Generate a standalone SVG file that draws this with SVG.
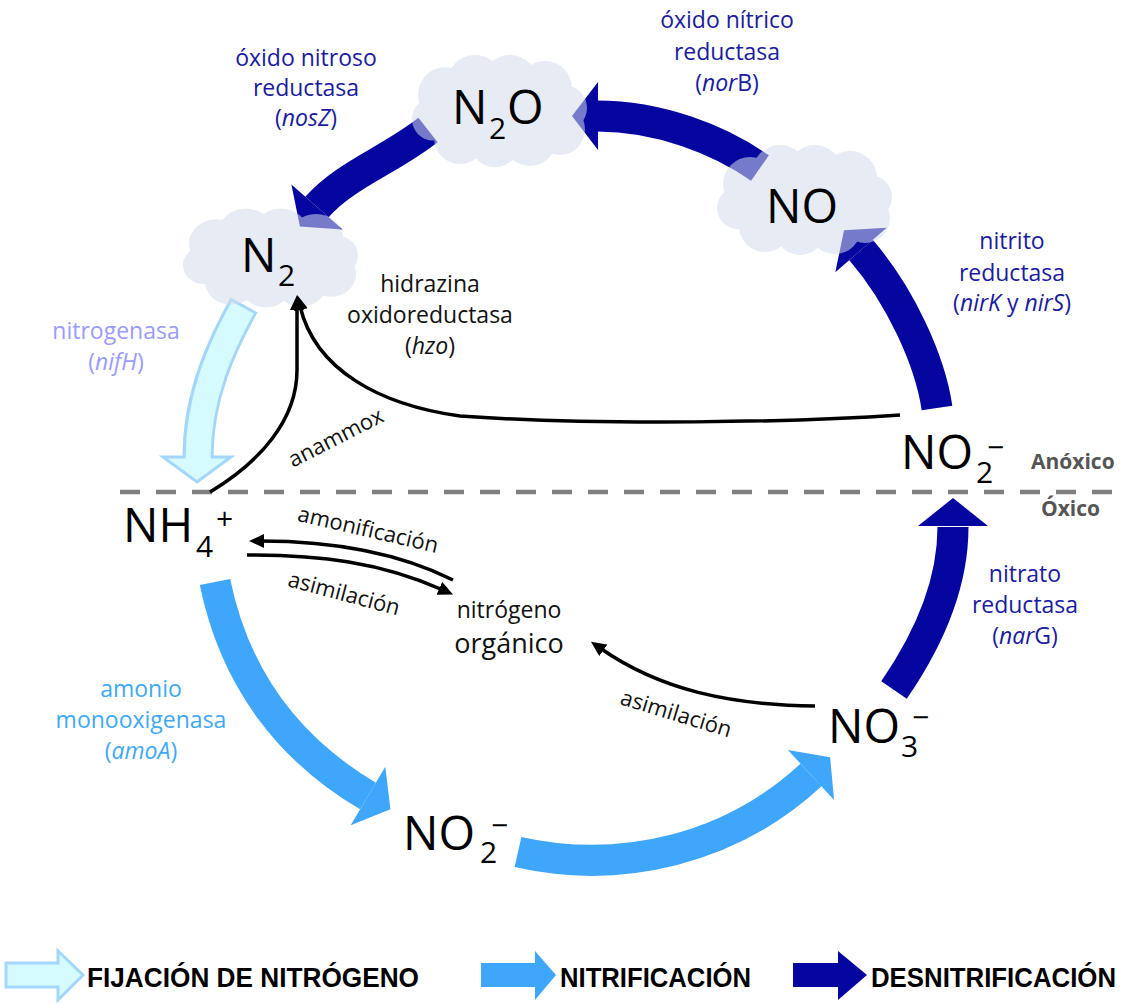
<svg xmlns="http://www.w3.org/2000/svg" xmlns:xlink="http://www.w3.org/1999/xlink" width="1127" height="1004" viewBox="0 0 1127 1004">
<style>
.sp{font-family:"Open Sans","Noto Sans",sans-serif;font-size:47px;fill:#000}
.sub{font-size:30px}
.lbl{font-family:"Open Sans","Noto Sans",sans-serif;font-size:23px;text-anchor:middle}
.den{fill:#1b1b9e}
.nit{fill:#3fa9f5}
.fix{fill:#9b9bff}
.blk{fill:#111}
.it{font-style:italic}
.rx{font-family:"Open Sans","Noto Sans",sans-serif;font-size:22px;fill:#111;text-anchor:middle}
.zone{font-family:"Open Sans","Noto Sans",sans-serif;font-size:21px;font-weight:bold;fill:#555}
.leg{font-family:"Liberation Sans Narrow","Liberation Sans",sans-serif;font-size:27px;font-weight:bold;fill:#000}
.bodyD{fill:none;stroke:#0505a0;stroke-width:31}
.bodyN{fill:none;stroke:#3ea6fb;stroke-width:31}
.headD{fill:#0505a0}
.headN{fill:#3ea6fb}
.thin{fill:none;stroke:#000;stroke-width:3.5}
.cloud{fill:#d3dcec}
</style>
<defs>
<g id="cloudShape">
<ellipse cx="0" cy="2" rx="70" ry="38"/>
<circle cx="-55" cy="-16" r="27"/>
<circle cx="-25" cy="-27" r="28"/>
<circle cx="10" cy="-28" r="27"/>
<circle cx="45" cy="-22" r="27"/>
<circle cx="65" cy="-3" r="22"/>
<circle cx="60" cy="18" r="25"/>
<circle cx="30" cy="28" r="26"/>
<circle cx="-5" cy="30" r="25"/>
<circle cx="-40" cy="26" r="26"/>
<circle cx="-67" cy="8" r="21"/>
</g>
<marker id="ah" markerUnits="userSpaceOnUse" markerWidth="16" markerHeight="14" refX="4" refY="7" orient="auto">
<path d="M0,0 L15,7 L0,14 z" fill="#000"/>
</marker>
</defs>

<line x1="120" y1="492" x2="1122" y2="492" stroke="#7f7f7f" stroke-width="4.5" stroke-dasharray="20,16"/>
<text class="zone" x="1031" y="469">Anóxico</text>
<text class="zone" x="1041" y="516">Óxico</text>

<g id="connectors-main">
<!-- nitrogen fixation N2 -> NH4+ -->
<g id="arrow-fixation">
<path d="M244,305 C222,345 198,395 198,457" fill="none" stroke="#a3d6fa" stroke-width="31"/>
<polygon points="163,457 231,457 197,482" fill="#d5fbff" stroke="#a3d6fa" stroke-width="3" stroke-linejoin="miter"/>
<path d="M242.8,307.5 C222,345 198,395 198,460" fill="none" stroke="#d5fbff" stroke-width="25"/>
</g>
<!-- nitrification -->
<g id="arrow-nh4-no2">
<path class="bodyN" d="M215,582 C235,680 290,750 368,796"/>
<polygon class="headN" points="350.7,825.3 385.3,766.7 390.4,809.2"/>
</g>
<g id="arrow-no2-no3">
<path class="bodyN" d="M518,852 C620,875 730,850 811,775"/>
<polygon class="headN" points="834.1,800 787.9,750 830.1,757.3"/>
</g>
<!-- denitrification -->
<g id="arrow-no3-no2">
<path class="bodyD" d="M894,690 C925,645 953,590 953,527"/>
<polygon class="headD" points="918,526 988,526 953,498"/>
</g>
<g id="arrow-no2-no">
<path class="bodyD" d="M937,408 C930,360 900,295 861,250"/>
<polygon class="headD" points="886.7,227.7 835.3,272.3 844,230.3"/>
</g>
<g id="arrow-no-n2o">
<path class="bodyD" d="M760,168 C720,140 660,116 597,116"/>
<polygon class="headD" points="598,82 598,150 572,116"/>
</g>
<g id="arrow-n2o-n2">
<path class="bodyD" d="M428,130 C390,160 345,175 317,207"/>
<polygon class="headD" points="342.6,229.4 291.4,184.6 299.9,226.6"/>
</g>
</g>

<g id="node-N2O">
<use xlink:href="#cloudShape" class="cloud" opacity="0.55" transform="translate(500,111) scale(1,1.02)"/>
<text class="sp"><tspan x="452" y="124">N</tspan><tspan class="sub" x="489" y="139">2</tspan><tspan x="507" y="124">O</tspan></text>
</g>
<g id="node-NO">
<use xlink:href="#cloudShape" class="cloud" opacity="0.55" transform="translate(805,200)"/>
<text class="sp" x="766" y="223">NO</text>
</g>
<g id="node-N2">
<use xlink:href="#cloudShape" class="cloud" opacity="0.55" transform="translate(271,258) scale(1,0.9)"/>
<text class="sp"><tspan x="241" y="272">N</tspan><tspan class="sub" x="278" y="286">2</tspan></text>
</g>
<g id="node-NO2-anoxic">
<text class="sp"><tspan x="901" y="469">NO</tspan><tspan class="sub" x="976" y="483">2</tspan><tspan class="sub" x="987" y="458">−</tspan></text>
</g>
<g id="node-NO3">
<text class="sp"><tspan x="828" y="743">NO</tspan><tspan class="sub" x="901" y="757">3</tspan><tspan class="sub" x="912" y="728">−</tspan></text>
</g>
<g id="node-NO2-oxic">
<text class="sp"><tspan x="403" y="850">NO</tspan><tspan class="sub" x="480" y="863">2</tspan><tspan class="sub" x="491" y="836">−</tspan></text>
</g>
<g id="node-NH4">
<text class="sp"><tspan x="123" y="542">NH</tspan><tspan class="sub" x="196" y="557">4</tspan><tspan class="sub" x="216" y="529">+</tspan></text>
</g>
<g id="node-Norg">
<text x="509" y="618" font-family="Open Sans, Noto Sans, sans-serif" font-size="23" fill="#111" text-anchor="middle">nitrógeno</text>
<text x="509" y="653" font-family="Open Sans, Noto Sans, sans-serif" font-size="27" fill="#111" text-anchor="middle">orgánico</text>
</g>

<g id="connectors-reactions">
<path class="thin" marker-end="url(#ah)" d="M210,492 C260,462 297,420 297,370 L297,306"/>
<path class="thin" marker-end="url(#ah)" d="M900,415 C800,422 600,426 460,416 C380,405 315,370 300,306"/>
<path class="thin" marker-end="url(#ah)" d="M453,580 C405,556 340,541 260,541"/>
<path class="thin" marker-end="url(#ah)" d="M247,555 C320,555 380,562 443,590"/>
<path class="thin" marker-end="url(#ah)" d="M815,706 C730,705 660,690 600,648"/>
</g>

<g id="labels">
<text class="lbl den"><tspan x="306" y="66">óxido nitroso</tspan><tspan x="306" y="96">reductasa</tspan><tspan x="306" y="126">(<tspan class="it">nosZ</tspan>)</tspan></text>
<text class="lbl den"><tspan x="727" y="28">óxido nítrico</tspan><tspan x="727" y="60">reductasa</tspan><tspan x="727" y="91">(<tspan class="it">nor</tspan>B)</tspan></text>
<text class="lbl den"><tspan x="1012" y="249">nitrito</tspan><tspan x="1012" y="281">reductasa</tspan><tspan x="1012" y="311">(<tspan class="it">nirK</tspan> y <tspan class="it">nirS</tspan>)</tspan></text>
<text class="lbl den"><tspan x="1025" y="582">nitrato</tspan><tspan x="1025" y="613">reductasa</tspan><tspan x="1025" y="644">(<tspan class="it">nar</tspan>G)</tspan></text>
<text class="lbl fix"><tspan x="116" y="339">nitrogenasa</tspan><tspan x="116" y="370">(<tspan class="it">nifH</tspan>)</tspan></text>
<text class="lbl blk"><tspan x="430" y="292">hidrazina</tspan><tspan x="430" y="323">oxidoreductasa</tspan><tspan x="430" y="354">(<tspan class="it">hzo</tspan>)</tspan></text>
<text class="lbl nit"><tspan x="141" y="697">amonio</tspan><tspan x="141" y="728">monooxigenasa</tspan><tspan x="141" y="759">(<tspan class="it">amoA</tspan>)</tspan></text>
<text class="rx" transform="translate(336,438) rotate(-27)" x="0" y="7">anammox</text>
<text class="rx" transform="translate(368,530) rotate(13)" x="0" y="7">amonificación</text>
<text class="rx" transform="translate(344,594) rotate(15)" x="0" y="7">asimilación</text>
<text class="rx" transform="translate(676,714) rotate(17)" x="0" y="7">asimilación</text>
</g>

<g id="legend">
<polygon points="6,963 58,963 58,951 83,975 58,1000 58,987 6,987" fill="#d5fbff" stroke="#a3d6fa" stroke-width="3"/>
<text class="leg" x="87" y="987" textLength="332" lengthAdjust="spacingAndGlyphs">FIJACIÓN DE NITRÓGENO</text>
<polygon points="481,963 535,963 535,951 556,975 535,1000 535,987 481,987" fill="#3ea6fb"/>
<text class="leg" x="560" y="987" textLength="191" lengthAdjust="spacingAndGlyphs">NITRIFICACIÓN</text>
<polygon points="793,963 838,963 838,951 867,975 838,1000 838,987 793,987" fill="#0505a0"/>
<text class="leg" x="871" y="987" textLength="245" lengthAdjust="spacingAndGlyphs">DESNITRIFICACIÓN</text>
</g>
</svg>
